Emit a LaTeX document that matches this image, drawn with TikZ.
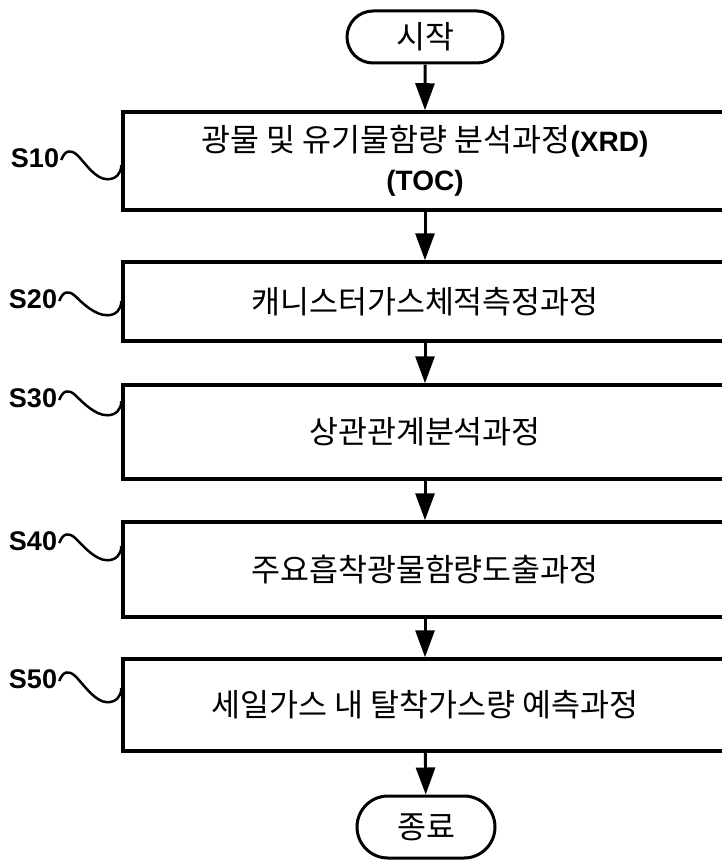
\documentclass[tikz,border=0pt]{standalone}
\usepackage{fontspec}
\setmainfont{Noto Sans CJK KR}
\newfontfamily\latf{Liberation Sans}
\usetikzlibrary{arrows.meta,shapes.misc,calc}
\newcommand\wig[2]{%
  \draw[sq] ($(#1.east)+(2,2)$) .. controls ($(#1.east)+(6,-8)$) and ($(#1.east)+(11,-9)$) .. ($(#1.east)+(18,-3)$)
    .. controls ($(#1.east)+(26,5)$) and ($(#2)+(-26,14)$) .. ($(#2)+(-14,14)$)
    .. controls ($(#2)+(-5,14)$) and ($(#2)+(0,8)$) .. (#2);}
\begin{document}
\begin{tikzpicture}[x=1pt,y=-1pt,
  box/.style={draw,line width=3.5pt,minimum width=604pt,inner sep=0pt,align=center,
              font=\fontsize{31.5}{39}\selectfont},
  term/.style={draw,rounded rectangle,line width=3pt,inner sep=0pt,
              font=\fontsize{31.5}{34}\selectfont},
  flow/.style={line width=3pt,-{Triangle[length=27pt,width=19pt]}},
  lab/.style={font=\latf\bfseries\fontsize{27}{30}\selectfont,inner sep=0pt},
  sq/.style={line width=2.5pt}]
\useasboundingbox (0,0) rectangle (722,864);
\node[term,minimum width=156pt,minimum height=52pt] (st) at (425,37) {시작};
\node[box,minimum height=98pt] (b1) at (425,161)
  {광물 및 유기물함량 분석과정{\latf\bfseries\fontsize{28}{39}\selectfont(XRD)}\\{\latf\bfseries\fontsize{28}{39}\selectfont(TOC)}};
\node[box,minimum height=79pt] (b2) at (425,301.5) {캐니스터가스체적측정과정};
\node[box,minimum height=94pt] (b3) at (425,432) {상관관계분석과정};
\node[box,minimum height=95pt] (b4) at (425,569.5) {주요흡착광물함량도출과정};
\node[box,minimum height=92pt] (b5) at (425,705) {세일가스 내 탈착가스량 예측과정};
\node[term,minimum width=138pt,minimum height=62pt] (en) at (426,827) {종료};

\draw[flow] (st) -- (b1);
\draw[flow] (b1) -- (b2);
\draw[flow] (b2) -- (b3);
\draw[flow] (b3) -- (b4);
\draw[flow] (b4) -- (b5);
\draw[flow] (b5) -- (en);

\node[lab] (l1) at (35,158) {S10};
\node[lab] (l2) at (33,299) {S20};
\node[lab] (l3) at (33,398) {S30};
\node[lab] (l4) at (33,541) {S40};
\node[lab] (l5) at (33,679) {S50};

\coordinate (e1) at ($(b1.north west)+(0,55)$);
\coordinate (e2) at ($(b2.north west)+(0,41)$);
\coordinate (e3) at ($(b3.north west)+(0,18)$);
\coordinate (e4) at ($(b4.north west)+(0,26)$);
\coordinate (e5) at ($(b5.north west)+(0,31)$);

\wig{l1}{e1}
\wig{l2}{e2}
\wig{l3}{e3}
\wig{l4}{e4}
\wig{l5}{e5}
\end{tikzpicture}
\end{document}
